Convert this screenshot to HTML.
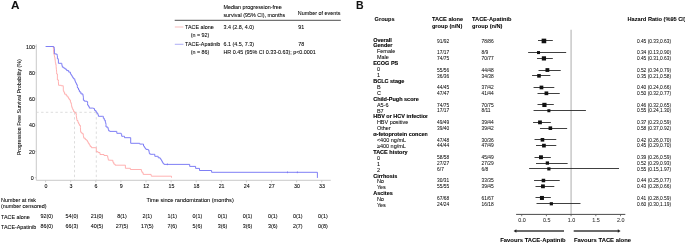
<!DOCTYPE html>
<html><head><meta charset="utf-8"><style>
html,body{margin:0;padding:0;background:#fff;width:685px;height:244px;overflow:hidden;}
svg{display:block;will-change:transform;font-family:"Liberation Sans",sans-serif;}
</style></head><body>
<svg width="685" height="244" viewBox="0 0 685 244">
<rect width="685" height="244" fill="#fff"/>
<text x="11.00" y="9.38" font-size="10.5" text-anchor="start" font-weight="bold" fill="#111" stroke="#111" stroke-width="0.05" textLength="8.5" lengthAdjust="spacingAndGlyphs">A</text>
<text x="223.40" y="9.34" font-size="5.4" text-anchor="start" font-weight="normal" fill="#000" stroke="#000" stroke-width="0.07" >Median progression-free</text>
<text x="223.40" y="17.14" font-size="5.4" text-anchor="start" font-weight="normal" fill="#000" stroke="#000" stroke-width="0.07" >survival (95% CI), months</text>
<text x="297.80" y="14.74" font-size="5.4" text-anchor="start" font-weight="normal" fill="#000" stroke="#000" stroke-width="0.07" >Number of events</text>
<line x1="174.70" y1="20.30" x2="340.80" y2="20.30" stroke="#222" stroke-width="0.8" />
<line x1="174.80" y1="27.00" x2="183.40" y2="27.00" stroke="#f8c4c4" stroke-width="1.1" />
<text x="185.10" y="28.94" font-size="5.4" text-anchor="start" font-weight="normal" fill="#000" stroke="#000" stroke-width="0.07" >TACE alone</text>
<text x="190.70" y="36.84" font-size="5.4" text-anchor="start" font-weight="normal" fill="#000" stroke="#000" stroke-width="0.07" >(n = 92)</text>
<text x="223.40" y="28.94" font-size="5.4" text-anchor="start" font-weight="normal" fill="#000" stroke="#000" stroke-width="0.07" >3.4 (2.8, 4.0)</text>
<text x="298.30" y="28.94" font-size="5.4" text-anchor="start" font-weight="normal" fill="#000" stroke="#000" stroke-width="0.07" >91</text>
<line x1="174.80" y1="44.30" x2="183.40" y2="44.30" stroke="#b4b4f6" stroke-width="1.1" />
<text x="185.10" y="46.24" font-size="5.4" text-anchor="start" font-weight="normal" fill="#000" stroke="#000" stroke-width="0.07" >TACE-Apatinib</text>
<text x="190.70" y="54.34" font-size="5.4" text-anchor="start" font-weight="normal" fill="#000" stroke="#000" stroke-width="0.07" >(n = 86)</text>
<text x="223.40" y="46.24" font-size="5.4" text-anchor="start" font-weight="normal" fill="#000" stroke="#000" stroke-width="0.07" >6.1 (4.5, 7.3)</text>
<text x="298.30" y="46.24" font-size="5.4" text-anchor="start" font-weight="normal" fill="#000" stroke="#000" stroke-width="0.07" >78</text>
<text x="223.40" y="54.34" font-size="5.4" text-anchor="start" font-weight="normal" fill="#000" stroke="#000" stroke-width="0.07" >HR 0.45 (95% CI 0.33-0.63); p&lt;0.0001</text>
<line x1="36.30" y1="44.30" x2="36.30" y2="180.30" stroke="#c4c4c4" stroke-width="0.9" />
<line x1="36.30" y1="180.30" x2="330.80" y2="180.30" stroke="#c4c4c4" stroke-width="0.9" />
<line x1="34.80" y1="177.70" x2="36.30" y2="177.70" stroke="#c4c4c4" stroke-width="0.8" />
<text x="33.70" y="179.91" font-size="5.3" text-anchor="end" font-weight="normal" fill="#000" stroke="#000" stroke-width="0.07" >0</text>
<line x1="34.80" y1="151.44" x2="36.30" y2="151.44" stroke="#c4c4c4" stroke-width="0.8" />
<text x="34.90" y="153.65" font-size="5.3" text-anchor="end" font-weight="normal" fill="#000" stroke="#000" stroke-width="0.07" >20</text>
<line x1="34.80" y1="125.18" x2="36.30" y2="125.18" stroke="#c4c4c4" stroke-width="0.8" />
<text x="34.90" y="127.39" font-size="5.3" text-anchor="end" font-weight="normal" fill="#000" stroke="#000" stroke-width="0.07" >40</text>
<line x1="34.80" y1="98.92" x2="36.30" y2="98.92" stroke="#c4c4c4" stroke-width="0.8" />
<text x="34.90" y="101.13" font-size="5.3" text-anchor="end" font-weight="normal" fill="#000" stroke="#000" stroke-width="0.07" >60</text>
<line x1="34.80" y1="72.66" x2="36.30" y2="72.66" stroke="#c4c4c4" stroke-width="0.8" />
<text x="34.90" y="74.87" font-size="5.3" text-anchor="end" font-weight="normal" fill="#000" stroke="#000" stroke-width="0.07" >80</text>
<line x1="34.80" y1="46.40" x2="36.30" y2="46.40" stroke="#c4c4c4" stroke-width="0.8" />
<text x="34.90" y="48.61" font-size="5.3" text-anchor="end" font-weight="normal" fill="#000" stroke="#000" stroke-width="0.07" >100</text>
<line x1="45.60" y1="180.30" x2="45.60" y2="182.30" stroke="#c4c4c4" stroke-width="0.8" />
<text x="45.90" y="187.71" font-size="5.3" text-anchor="middle" font-weight="normal" fill="#000" stroke="#000" stroke-width="0.07" >0</text>
<line x1="70.70" y1="180.30" x2="70.70" y2="182.30" stroke="#c4c4c4" stroke-width="0.8" />
<text x="71.00" y="187.71" font-size="5.3" text-anchor="middle" font-weight="normal" fill="#000" stroke="#000" stroke-width="0.07" >3</text>
<line x1="95.80" y1="180.30" x2="95.80" y2="182.30" stroke="#c4c4c4" stroke-width="0.8" />
<text x="96.10" y="187.71" font-size="5.3" text-anchor="middle" font-weight="normal" fill="#000" stroke="#000" stroke-width="0.07" >6</text>
<line x1="120.90" y1="180.30" x2="120.90" y2="182.30" stroke="#c4c4c4" stroke-width="0.8" />
<text x="121.20" y="187.71" font-size="5.3" text-anchor="middle" font-weight="normal" fill="#000" stroke="#000" stroke-width="0.07" >9</text>
<line x1="146.00" y1="180.30" x2="146.00" y2="182.30" stroke="#c4c4c4" stroke-width="0.8" />
<text x="146.30" y="187.71" font-size="5.3" text-anchor="middle" font-weight="normal" fill="#000" stroke="#000" stroke-width="0.07" >12</text>
<line x1="171.11" y1="180.30" x2="171.11" y2="182.30" stroke="#c4c4c4" stroke-width="0.8" />
<text x="171.41" y="187.71" font-size="5.3" text-anchor="middle" font-weight="normal" fill="#000" stroke="#000" stroke-width="0.07" >15</text>
<line x1="196.21" y1="180.30" x2="196.21" y2="182.30" stroke="#c4c4c4" stroke-width="0.8" />
<text x="196.51" y="187.71" font-size="5.3" text-anchor="middle" font-weight="normal" fill="#000" stroke="#000" stroke-width="0.07" >18</text>
<line x1="221.31" y1="180.30" x2="221.31" y2="182.30" stroke="#c4c4c4" stroke-width="0.8" />
<text x="221.61" y="187.71" font-size="5.3" text-anchor="middle" font-weight="normal" fill="#000" stroke="#000" stroke-width="0.07" >21</text>
<line x1="246.41" y1="180.30" x2="246.41" y2="182.30" stroke="#c4c4c4" stroke-width="0.8" />
<text x="246.71" y="187.71" font-size="5.3" text-anchor="middle" font-weight="normal" fill="#000" stroke="#000" stroke-width="0.07" >24</text>
<line x1="271.51" y1="180.30" x2="271.51" y2="182.30" stroke="#c4c4c4" stroke-width="0.8" />
<text x="271.81" y="187.71" font-size="5.3" text-anchor="middle" font-weight="normal" fill="#000" stroke="#000" stroke-width="0.07" >27</text>
<line x1="296.61" y1="180.30" x2="296.61" y2="182.30" stroke="#c4c4c4" stroke-width="0.8" />
<text x="296.91" y="187.71" font-size="5.3" text-anchor="middle" font-weight="normal" fill="#000" stroke="#000" stroke-width="0.07" >30</text>
<line x1="321.71" y1="180.30" x2="321.71" y2="182.30" stroke="#c4c4c4" stroke-width="0.8" />
<text x="322.01" y="187.71" font-size="5.3" text-anchor="middle" font-weight="normal" fill="#000" stroke="#000" stroke-width="0.07" >33</text>
<text transform="translate(20.5,107.3) rotate(-90)" font-size="5.25" text-anchor="middle" fill="#000" stroke="#000" stroke-width="0.05">Progression Free Survival Probability (%)</text>
<text x="190.20" y="202.12" font-size="5.6" text-anchor="middle" font-weight="normal" fill="#000" stroke="#000" stroke-width="0.07" >Time since randomization (months)</text>
<line x1="36.30" y1="112.30" x2="96.30" y2="112.30" stroke="#d4d4d4" stroke-width="0.8" stroke-dasharray="2.4 2.4"/>
<line x1="74.50" y1="112.30" x2="74.50" y2="180.30" stroke="#d4d4d4" stroke-width="0.8" stroke-dasharray="2.4 2.4"/>
<line x1="96.30" y1="112.30" x2="96.30" y2="180.30" stroke="#d4d4d4" stroke-width="0.8" stroke-dasharray="2.4 2.4"/>
<polyline points="53.20,46.50 53.32,46.50 53.32,47.98 53.44,47.98 53.44,49.46 53.56,49.46 53.56,50.94 53.68,50.94 53.68,52.42 53.80,52.42 53.80,53.90 54.17,53.90 54.17,55.53 54.53,55.53 54.53,57.17 54.90,57.17 54.90,58.80 55.07,58.80 55.07,60.13 55.23,60.13 55.23,61.47 55.40,61.47 55.40,62.80 55.75,62.80 55.75,64.50 56.10,64.50 56.10,66.20 56.40,69.70 56.50,69.70 56.50,71.13 56.60,71.13 56.60,72.57 56.70,72.57 56.70,74.00 57.40,74.00 57.40,76.00 57.40,79.90 58.40,79.90 58.40,81.40 58.60,85.30 61.30,85.30 61.30,85.80 63.30,85.80 63.30,86.30 63.30,90.70 63.80,90.70 63.80,92.20 64.60,92.20 64.60,94.20 66.30,94.20 66.30,95.20 66.40,96.00 67.90,96.00 67.90,97.50 68.65,97.50 68.65,98.70 69.40,98.70 69.40,99.90 70.40,99.90 70.40,101.90 70.85,101.90 70.85,103.15 71.30,103.15 71.30,104.40 71.55,104.40 71.55,105.85 71.80,105.85 71.80,107.30 72.30,107.30 72.30,108.55 72.80,108.55 72.80,109.80 73.60,109.80 73.60,111.70 74.80,111.70 74.80,112.70 75.80,112.70 75.80,113.70 76.30,113.70 76.30,115.70 76.60,118.00 76.75,118.00 76.75,119.25 76.90,119.25 76.90,120.50 77.90,120.50 77.90,122.40 78.65,122.40 78.65,123.90 79.40,123.90 79.40,125.40 80.40,125.40 80.40,127.30 80.70,132.30 81.90,132.30 81.90,133.70 83.30,133.70 83.30,135.70 83.55,135.70 83.55,136.95 83.80,136.95 83.80,138.20 85.30,138.20 85.30,139.60 86.50,139.60 86.50,140.30 87.40,140.30 87.40,141.85 88.30,141.85 88.30,143.40 89.25,143.40 89.25,144.95 90.20,144.95 90.20,146.50 91.40,146.50 91.40,147.70 95.70,147.70 96.30,147.70 96.30,148.90 96.30,151.70 98.10,151.70 98.10,152.60 100.00,152.60 100.00,154.50 104.00,154.50 104.00,155.50 107.10,155.50 107.10,155.90 107.70,155.90 107.70,157.40 108.00,157.40 108.00,158.75 108.30,158.75 108.30,160.10 112.00,160.30 112.90,160.30 112.90,162.30 113.80,162.30 113.80,164.10 115.10,164.10 115.10,165.20 125.40,165.20 125.40,168.30 130.00,168.30 130.40,168.30 130.40,169.50 141.00,169.50 141.40,169.50 141.40,171.20 142.10,171.20 142.10,172.70 143.20,172.70 143.20,174.40 151.10,174.40 151.30,176.20 171.50,176.20 171.50,177.70" fill="none" stroke="#ffa4a4" stroke-width="0.85" stroke-linejoin="miter"/>
<polyline points="45.60,46.50 53.20,46.50 53.80,46.50 53.80,47.60 54.40,47.60 54.40,48.60 54.40,53.80 55.50,53.80 55.50,54.10 57.10,54.10 57.10,55.10 57.40,55.90 57.40,58.80 58.40,58.80 58.40,59.80 58.40,63.30 61.30,63.30 61.80,63.30 61.80,64.70 62.05,64.70 62.05,65.95 62.30,65.95 62.30,67.20 63.80,67.20 63.80,68.20 65.20,68.20 65.20,69.20 66.70,69.20 66.70,70.60 68.70,70.60 68.70,72.10 70.40,72.10 70.40,73.90 71.15,73.90 71.15,75.10 71.90,75.10 71.90,76.30 72.65,76.30 72.65,77.55 73.40,77.55 73.40,78.80 74.80,78.80 74.80,80.70 75.30,80.70 75.30,81.95 75.80,81.95 75.80,83.20 76.55,83.20 76.55,84.70 77.30,84.70 77.30,86.20 77.50,88.00 78.50,88.00 78.50,89.90 79.40,89.90 79.40,91.90 80.90,91.90 80.90,93.90 82.90,93.90 82.90,95.30 83.15,95.30 83.15,96.55 83.40,96.55 83.40,97.80 83.40,100.30 84.40,100.30 84.40,101.20 86.80,101.20 86.80,101.70 87.60,101.70 87.60,103.20 87.60,105.20 88.60,105.20 88.60,106.60 89.30,106.60 89.30,108.10 92.20,108.10 93.50,108.10 93.50,108.60 94.50,108.60 94.50,110.40 95.90,110.40 95.90,111.90 96.90,111.90 96.90,113.30 97.90,113.30 97.90,114.80 98.40,114.80 98.40,116.30 102.30,116.30 103.30,116.30 103.30,118.30 104.30,118.30 104.30,120.20 105.30,120.20 105.30,122.20 105.65,122.20 105.65,123.35 106.00,123.35 106.00,124.50 106.00,127.00 107.90,127.00 107.90,128.40 108.30,128.40 108.30,129.65 108.70,129.65 108.70,130.90 109.90,130.90 109.90,131.40 116.30,131.40 116.80,131.40 116.80,133.30 120.20,133.30 121.20,133.30 121.20,134.30 121.70,134.30 121.70,136.30 123.70,136.30 124.50,136.30 124.50,137.70 130.70,137.70 130.70,143.30 139.20,143.30 139.70,143.30 139.70,144.10 142.20,144.10 143.50,144.10 143.50,146.00 144.25,146.00 144.25,147.20 145.00,147.20 145.00,148.40 145.90,148.40 145.90,149.40 147.90,149.40 147.90,149.90 148.90,149.90 148.90,151.40 149.15,151.40 149.15,152.60 149.40,152.60 149.40,153.80 150.40,153.80 150.40,154.30 153.80,154.30 154.80,154.30 154.80,156.30 157.20,156.30 158.20,156.30 158.20,157.80 160.20,157.80 160.20,158.70 160.95,158.70 160.95,159.95 161.70,159.95 161.70,161.20 162.40,161.20 162.40,162.45 163.10,162.45 163.10,163.70 164.10,163.70 164.10,164.40 189.70,164.40 189.70,166.40 195.60,166.40 195.60,168.40 199.50,168.40 199.50,170.50 211.60,170.50 211.60,172.30 317.40,172.30 317.40,177.90" fill="none" stroke="#7070f4" stroke-width="0.9" stroke-linejoin="miter"/>
<line x1="167.40" y1="163.40" x2="167.40" y2="165.20" stroke="#7070f4" stroke-width="0.7" />
<line x1="287.50" y1="171.40" x2="287.50" y2="173.20" stroke="#7070f4" stroke-width="0.7" />
<line x1="297.40" y1="171.40" x2="297.40" y2="173.20" stroke="#7070f4" stroke-width="0.7" />
<text x="1.00" y="202.34" font-size="5.4" text-anchor="start" font-weight="normal" fill="#000" stroke="#000" stroke-width="0.07" >Number at risk</text>
<text x="1.00" y="208.04" font-size="5.4" text-anchor="start" font-weight="normal" fill="#000" stroke="#000" stroke-width="0.07" >(number censored)</text>
<text x="1.00" y="219.14" font-size="5.4" text-anchor="start" font-weight="normal" fill="#000" stroke="#000" stroke-width="0.07" >TACE alone</text>
<text x="1.00" y="228.54" font-size="5.4" text-anchor="start" font-weight="normal" fill="#000" stroke="#000" stroke-width="0.07" >TACE-Apatinib</text>
<text x="46.80" y="218.24" font-size="5.4" text-anchor="middle" font-weight="normal" fill="#000" stroke="#000" stroke-width="0.07" >92(0)</text>
<text x="46.80" y="228.44" font-size="5.4" text-anchor="middle" font-weight="normal" fill="#000" stroke="#000" stroke-width="0.07" >86(0)</text>
<text x="71.90" y="218.24" font-size="5.4" text-anchor="middle" font-weight="normal" fill="#000" stroke="#000" stroke-width="0.07" >54(0)</text>
<text x="71.90" y="228.44" font-size="5.4" text-anchor="middle" font-weight="normal" fill="#000" stroke="#000" stroke-width="0.07" >66(3)</text>
<text x="97.00" y="218.24" font-size="5.4" text-anchor="middle" font-weight="normal" fill="#000" stroke="#000" stroke-width="0.07" >21(0)</text>
<text x="97.00" y="228.44" font-size="5.4" text-anchor="middle" font-weight="normal" fill="#000" stroke="#000" stroke-width="0.07" >40(5)</text>
<text x="122.10" y="218.24" font-size="5.4" text-anchor="middle" font-weight="normal" fill="#000" stroke="#000" stroke-width="0.07" >8(1)</text>
<text x="122.10" y="228.44" font-size="5.4" text-anchor="middle" font-weight="normal" fill="#000" stroke="#000" stroke-width="0.07" >27(5)</text>
<text x="147.20" y="218.24" font-size="5.4" text-anchor="middle" font-weight="normal" fill="#000" stroke="#000" stroke-width="0.07" >2(1)</text>
<text x="147.20" y="228.44" font-size="5.4" text-anchor="middle" font-weight="normal" fill="#000" stroke="#000" stroke-width="0.07" >17(5)</text>
<text x="172.31" y="218.24" font-size="5.4" text-anchor="middle" font-weight="normal" fill="#000" stroke="#000" stroke-width="0.07" >1(1)</text>
<text x="172.31" y="228.44" font-size="5.4" text-anchor="middle" font-weight="normal" fill="#000" stroke="#000" stroke-width="0.07" >7(6)</text>
<text x="197.41" y="218.24" font-size="5.4" text-anchor="middle" font-weight="normal" fill="#000" stroke="#000" stroke-width="0.07" >0(1)</text>
<text x="197.41" y="228.44" font-size="5.4" text-anchor="middle" font-weight="normal" fill="#000" stroke="#000" stroke-width="0.07" >5(6)</text>
<text x="222.51" y="218.24" font-size="5.4" text-anchor="middle" font-weight="normal" fill="#000" stroke="#000" stroke-width="0.07" >0(1)</text>
<text x="222.51" y="228.44" font-size="5.4" text-anchor="middle" font-weight="normal" fill="#000" stroke="#000" stroke-width="0.07" >3(6)</text>
<text x="247.61" y="218.24" font-size="5.4" text-anchor="middle" font-weight="normal" fill="#000" stroke="#000" stroke-width="0.07" >0(1)</text>
<text x="247.61" y="228.44" font-size="5.4" text-anchor="middle" font-weight="normal" fill="#000" stroke="#000" stroke-width="0.07" >3(6)</text>
<text x="272.71" y="218.24" font-size="5.4" text-anchor="middle" font-weight="normal" fill="#000" stroke="#000" stroke-width="0.07" >0(1)</text>
<text x="272.71" y="228.44" font-size="5.4" text-anchor="middle" font-weight="normal" fill="#000" stroke="#000" stroke-width="0.07" >3(6)</text>
<text x="297.81" y="218.24" font-size="5.4" text-anchor="middle" font-weight="normal" fill="#000" stroke="#000" stroke-width="0.07" >0(1)</text>
<text x="297.81" y="228.44" font-size="5.4" text-anchor="middle" font-weight="normal" fill="#000" stroke="#000" stroke-width="0.07" >2(7)</text>
<text x="322.91" y="218.24" font-size="5.4" text-anchor="middle" font-weight="normal" fill="#000" stroke="#000" stroke-width="0.07" >0(1)</text>
<text x="322.91" y="228.44" font-size="5.4" text-anchor="middle" font-weight="normal" fill="#000" stroke="#000" stroke-width="0.07" >0(8)</text>
<text x="355.90" y="9.38" font-size="10.5" text-anchor="start" font-weight="bold" fill="#111" stroke="#111" stroke-width="0.05" >B</text>
<text x="374.60" y="21.23" font-size="5.65" text-anchor="start" font-weight="bold" fill="#000" stroke="#000" stroke-width="0.05" >Groups</text>
<text x="431.90" y="21.23" font-size="5.65" text-anchor="start" font-weight="bold" fill="#000" stroke="#000" stroke-width="0.05" >TACE alone</text>
<text x="431.90" y="27.83" font-size="5.65" text-anchor="start" font-weight="bold" fill="#000" stroke="#000" stroke-width="0.05" >group (n/N)</text>
<text x="472.10" y="21.23" font-size="5.65" text-anchor="start" font-weight="bold" fill="#000" stroke="#000" stroke-width="0.05" >TACE-Apatinib</text>
<text x="472.10" y="27.83" font-size="5.65" text-anchor="start" font-weight="bold" fill="#000" stroke="#000" stroke-width="0.05" >group (n/N)</text>
<text x="627.50" y="21.33" font-size="5.65" text-anchor="start" font-weight="bold" fill="#000" stroke="#000" stroke-width="0.05" >Hazard Ratio (%95 CI)</text>
<line x1="571.10" y1="29.80" x2="571.10" y2="214.40" stroke="#c8c8c8" stroke-width="1.5" />
<clipPath id="gc"><rect x="360" y="0" width="67.6" height="244"/></clipPath>
<text x="373.20" y="41.58" font-size="5.5" text-anchor="start" font-weight="bold" fill="#000" stroke="#000" stroke-width="0.12" clip-path="url(#gc)">Overall</text>
<text x="437.10" y="42.70" font-size="4.85" text-anchor="start" font-weight="normal" fill="#000" stroke="#000" stroke-width="0.03" >91/92</text>
<text x="481.50" y="42.70" font-size="4.85" text-anchor="start" font-weight="normal" fill="#000" stroke="#000" stroke-width="0.03" >78/86</text>
<text x="636.90" y="42.70" font-size="4.85" text-anchor="start" font-weight="normal" fill="#000" stroke="#000" stroke-width="0.03" >0.45 (0.33,0.63)</text>
<line x1="538.00" y1="40.50" x2="552.82" y2="40.50" stroke="#2a2a2a" stroke-width="0.9" />
<rect x="541.63" y="38.65" width="4.60" height="4.60" fill="#111"/>
<text x="373.20" y="47.49" font-size="5.5" text-anchor="start" font-weight="bold" fill="#000" stroke="#000" stroke-width="0.12" clip-path="url(#gc)">Gender</text>
<text x="376.90" y="53.40" font-size="5.5" text-anchor="start" font-weight="normal" fill="#000" stroke="#000" stroke-width="0.05" >Female</text>
<text x="437.10" y="54.33" font-size="4.85" text-anchor="start" font-weight="normal" fill="#000" stroke="#000" stroke-width="0.03" >17/17</text>
<text x="481.50" y="54.33" font-size="4.85" text-anchor="start" font-weight="normal" fill="#000" stroke="#000" stroke-width="0.03" >8/9</text>
<text x="636.90" y="54.33" font-size="4.85" text-anchor="start" font-weight="normal" fill="#000" stroke="#000" stroke-width="0.03" >0.34 (0.13,0.90)</text>
<line x1="528.12" y1="52.50" x2="566.16" y2="52.50" stroke="#2a2a2a" stroke-width="0.9" />
<rect x="537.00" y="51.08" width="3.00" height="3.00" fill="#111"/>
<text x="376.90" y="59.31" font-size="5.5" text-anchor="start" font-weight="normal" fill="#000" stroke="#000" stroke-width="0.05" >Male</text>
<text x="437.10" y="60.14" font-size="4.85" text-anchor="start" font-weight="normal" fill="#000" stroke="#000" stroke-width="0.03" >74/75</text>
<text x="481.50" y="60.14" font-size="4.85" text-anchor="start" font-weight="normal" fill="#000" stroke="#000" stroke-width="0.03" >70/77</text>
<text x="636.90" y="60.14" font-size="4.85" text-anchor="start" font-weight="normal" fill="#000" stroke="#000" stroke-width="0.03" >0.45 (0.31,0.63)</text>
<line x1="537.01" y1="58.50" x2="552.82" y2="58.50" stroke="#2a2a2a" stroke-width="0.9" />
<rect x="541.83" y="56.30" width="4.20" height="4.20" fill="#111"/>
<text x="373.20" y="65.22" font-size="5.5" text-anchor="start" font-weight="bold" fill="#000" stroke="#000" stroke-width="0.12" clip-path="url(#gc)">ECOG PS</text>
<text x="376.90" y="71.13" font-size="5.5" text-anchor="start" font-weight="normal" fill="#000" stroke="#000" stroke-width="0.05" >0</text>
<text x="437.10" y="71.77" font-size="4.85" text-anchor="start" font-weight="normal" fill="#000" stroke="#000" stroke-width="0.03" >55/56</text>
<text x="481.50" y="71.77" font-size="4.85" text-anchor="start" font-weight="normal" fill="#000" stroke="#000" stroke-width="0.03" >44/48</text>
<text x="636.90" y="71.77" font-size="4.85" text-anchor="start" font-weight="normal" fill="#000" stroke="#000" stroke-width="0.03" >0.52 (0.34,0.79)</text>
<line x1="538.50" y1="70.50" x2="560.73" y2="70.50" stroke="#2a2a2a" stroke-width="0.9" />
<rect x="545.49" y="68.12" width="3.80" height="3.80" fill="#111"/>
<text x="376.90" y="77.04" font-size="5.5" text-anchor="start" font-weight="normal" fill="#000" stroke="#000" stroke-width="0.05" >1</text>
<text x="437.10" y="77.59" font-size="4.85" text-anchor="start" font-weight="normal" fill="#000" stroke="#000" stroke-width="0.03" >36/36</text>
<text x="481.50" y="77.59" font-size="4.85" text-anchor="start" font-weight="normal" fill="#000" stroke="#000" stroke-width="0.03" >34/38</text>
<text x="636.90" y="77.59" font-size="4.85" text-anchor="start" font-weight="normal" fill="#000" stroke="#000" stroke-width="0.03" >0.35 (0.21,0.58)</text>
<line x1="532.07" y1="75.50" x2="550.35" y2="75.50" stroke="#2a2a2a" stroke-width="0.9" />
<rect x="537.19" y="74.04" width="3.60" height="3.60" fill="#111"/>
<text x="373.20" y="82.95" font-size="5.5" text-anchor="start" font-weight="bold" fill="#000" stroke="#000" stroke-width="0.12" clip-path="url(#gc)">BCLC stage</text>
<text x="376.90" y="88.86" font-size="5.5" text-anchor="start" font-weight="normal" fill="#000" stroke="#000" stroke-width="0.05" >B</text>
<text x="437.10" y="89.22" font-size="4.85" text-anchor="start" font-weight="normal" fill="#000" stroke="#000" stroke-width="0.03" >44/45</text>
<text x="481.50" y="89.22" font-size="4.85" text-anchor="start" font-weight="normal" fill="#000" stroke="#000" stroke-width="0.03" >37/42</text>
<text x="636.90" y="89.22" font-size="4.85" text-anchor="start" font-weight="normal" fill="#000" stroke="#000" stroke-width="0.03" >0.40 (0.24,0.66)</text>
<line x1="533.56" y1="87.50" x2="554.30" y2="87.50" stroke="#2a2a2a" stroke-width="0.9" />
<rect x="539.61" y="85.62" width="3.70" height="3.70" fill="#111"/>
<text x="376.90" y="94.77" font-size="5.5" text-anchor="start" font-weight="normal" fill="#000" stroke="#000" stroke-width="0.05" >C</text>
<text x="437.10" y="95.03" font-size="4.85" text-anchor="start" font-weight="normal" fill="#000" stroke="#000" stroke-width="0.03" >47/47</text>
<text x="481.50" y="95.03" font-size="4.85" text-anchor="start" font-weight="normal" fill="#000" stroke="#000" stroke-width="0.03" >41/44</text>
<text x="636.90" y="95.03" font-size="4.85" text-anchor="start" font-weight="normal" fill="#000" stroke="#000" stroke-width="0.03" >0.50 (0.32,0.77)</text>
<line x1="537.51" y1="93.50" x2="559.74" y2="93.50" stroke="#2a2a2a" stroke-width="0.9" />
<rect x="544.55" y="91.44" width="3.70" height="3.70" fill="#111"/>
<text x="373.20" y="100.68" font-size="5.5" text-anchor="start" font-weight="bold" fill="#000" stroke="#000" stroke-width="0.12" clip-path="url(#gc)">Child-Pugh score</text>
<text x="376.90" y="106.59" font-size="5.5" text-anchor="start" font-weight="normal" fill="#000" stroke="#000" stroke-width="0.05" >A5-6</text>
<text x="437.10" y="106.66" font-size="4.85" text-anchor="start" font-weight="normal" fill="#000" stroke="#000" stroke-width="0.03" >74/75</text>
<text x="481.50" y="106.66" font-size="4.85" text-anchor="start" font-weight="normal" fill="#000" stroke="#000" stroke-width="0.03" >70/75</text>
<text x="636.90" y="106.66" font-size="4.85" text-anchor="start" font-weight="normal" fill="#000" stroke="#000" stroke-width="0.03" >0.46 (0.32,0.65)</text>
<line x1="537.51" y1="104.50" x2="553.81" y2="104.50" stroke="#2a2a2a" stroke-width="0.9" />
<rect x="542.32" y="102.82" width="4.20" height="4.20" fill="#111"/>
<text x="376.90" y="112.50" font-size="5.5" text-anchor="start" font-weight="normal" fill="#000" stroke="#000" stroke-width="0.05" >B7</text>
<text x="437.10" y="112.48" font-size="4.85" text-anchor="start" font-weight="normal" fill="#000" stroke="#000" stroke-width="0.03" >17/17</text>
<text x="481.50" y="112.48" font-size="4.85" text-anchor="start" font-weight="normal" fill="#000" stroke="#000" stroke-width="0.03" >8/11</text>
<text x="636.90" y="112.48" font-size="4.85" text-anchor="start" font-weight="normal" fill="#000" stroke="#000" stroke-width="0.03" >0.55 (0.24,1.30)</text>
<line x1="533.56" y1="110.50" x2="585.92" y2="110.50" stroke="#2a2a2a" stroke-width="0.9" />
<rect x="547.37" y="109.23" width="3.00" height="3.00" fill="#111"/>
<text x="373.20" y="118.41" font-size="5.5" text-anchor="start" font-weight="bold" fill="#000" stroke="#000" stroke-width="0.12" clip-path="url(#gc)">HBV or HCV infection</text>
<text x="376.90" y="124.32" font-size="5.5" text-anchor="start" font-weight="normal" fill="#000" stroke="#000" stroke-width="0.05" >HBV positive</text>
<text x="437.10" y="124.11" font-size="4.85" text-anchor="start" font-weight="normal" fill="#000" stroke="#000" stroke-width="0.03" >49/49</text>
<text x="481.50" y="124.11" font-size="4.85" text-anchor="start" font-weight="normal" fill="#000" stroke="#000" stroke-width="0.03" >39/44</text>
<text x="636.90" y="124.11" font-size="4.85" text-anchor="start" font-weight="normal" fill="#000" stroke="#000" stroke-width="0.03" >0.37 (0.23,0.59)</text>
<line x1="533.06" y1="122.50" x2="550.85" y2="122.50" stroke="#2a2a2a" stroke-width="0.9" />
<rect x="538.08" y="120.46" width="3.80" height="3.80" fill="#111"/>
<text x="376.90" y="130.23" font-size="5.5" text-anchor="start" font-weight="normal" fill="#000" stroke="#000" stroke-width="0.05" >Other</text>
<text x="437.10" y="129.92" font-size="4.85" text-anchor="start" font-weight="normal" fill="#000" stroke="#000" stroke-width="0.03" >39/40</text>
<text x="481.50" y="129.92" font-size="4.85" text-anchor="start" font-weight="normal" fill="#000" stroke="#000" stroke-width="0.03" >39/42</text>
<text x="636.90" y="129.92" font-size="4.85" text-anchor="start" font-weight="normal" fill="#000" stroke="#000" stroke-width="0.03" >0.58 (0.37,0.92)</text>
<line x1="539.98" y1="128.50" x2="567.15" y2="128.50" stroke="#2a2a2a" stroke-width="0.9" />
<rect x="548.55" y="126.38" width="3.60" height="3.60" fill="#111"/>
<text x="373.20" y="136.14" font-size="5.5" text-anchor="start" font-weight="bold" fill="#000" stroke="#000" stroke-width="0.12" clip-path="url(#gc)">α-fetoprotein concen</text>
<text x="376.90" y="142.05" font-size="5.5" text-anchor="start" font-weight="normal" fill="#000" stroke="#000" stroke-width="0.05" >&lt;400 ng/mL</text>
<text x="437.10" y="141.55" font-size="4.85" text-anchor="start" font-weight="normal" fill="#000" stroke="#000" stroke-width="0.03" >47/48</text>
<text x="481.50" y="141.55" font-size="4.85" text-anchor="start" font-weight="normal" fill="#000" stroke="#000" stroke-width="0.03" >30/36</text>
<text x="636.90" y="141.55" font-size="4.85" text-anchor="start" font-weight="normal" fill="#000" stroke="#000" stroke-width="0.03" >0.42 (0.26,0.70)</text>
<line x1="534.54" y1="139.50" x2="556.28" y2="139.50" stroke="#2a2a2a" stroke-width="0.9" />
<rect x="540.65" y="138.00" width="3.60" height="3.60" fill="#111"/>
<text x="376.90" y="147.96" font-size="5.5" text-anchor="start" font-weight="normal" fill="#000" stroke="#000" stroke-width="0.05" >≥400 ng/mL</text>
<text x="437.10" y="147.37" font-size="4.85" text-anchor="start" font-weight="normal" fill="#000" stroke="#000" stroke-width="0.03" >44/44</text>
<text x="481.50" y="147.37" font-size="4.85" text-anchor="start" font-weight="normal" fill="#000" stroke="#000" stroke-width="0.03" >47/49</text>
<text x="636.90" y="147.37" font-size="4.85" text-anchor="start" font-weight="normal" fill="#000" stroke="#000" stroke-width="0.03" >0.45 (0.29,0.70)</text>
<line x1="536.03" y1="145.50" x2="556.28" y2="145.50" stroke="#2a2a2a" stroke-width="0.9" />
<rect x="542.08" y="143.77" width="3.70" height="3.70" fill="#111"/>
<text x="373.20" y="153.87" font-size="5.5" text-anchor="start" font-weight="bold" fill="#000" stroke="#000" stroke-width="0.12" clip-path="url(#gc)">TACE history</text>
<text x="376.90" y="159.78" font-size="5.5" text-anchor="start" font-weight="normal" fill="#000" stroke="#000" stroke-width="0.05" >0</text>
<text x="437.10" y="159.00" font-size="4.85" text-anchor="start" font-weight="normal" fill="#000" stroke="#000" stroke-width="0.03" >58/58</text>
<text x="481.50" y="159.00" font-size="4.85" text-anchor="start" font-weight="normal" fill="#000" stroke="#000" stroke-width="0.03" >45/49</text>
<text x="636.90" y="159.00" font-size="4.85" text-anchor="start" font-weight="normal" fill="#000" stroke="#000" stroke-width="0.03" >0.39 (0.26,0.59)</text>
<line x1="534.54" y1="157.50" x2="550.85" y2="157.50" stroke="#2a2a2a" stroke-width="0.9" />
<rect x="539.02" y="155.30" width="3.90" height="3.90" fill="#111"/>
<text x="376.90" y="165.69" font-size="5.5" text-anchor="start" font-weight="normal" fill="#000" stroke="#000" stroke-width="0.05" >1</text>
<text x="437.10" y="164.81" font-size="4.85" text-anchor="start" font-weight="normal" fill="#000" stroke="#000" stroke-width="0.03" >27/27</text>
<text x="481.50" y="164.81" font-size="4.85" text-anchor="start" font-weight="normal" fill="#000" stroke="#000" stroke-width="0.03" >27/29</text>
<text x="636.90" y="164.81" font-size="4.85" text-anchor="start" font-weight="normal" fill="#000" stroke="#000" stroke-width="0.03" >0.52 (0.29,0.93)</text>
<line x1="536.03" y1="163.50" x2="567.64" y2="163.50" stroke="#2a2a2a" stroke-width="0.9" />
<rect x="545.74" y="161.41" width="3.30" height="3.30" fill="#111"/>
<text x="376.90" y="171.60" font-size="5.5" text-anchor="start" font-weight="normal" fill="#000" stroke="#000" stroke-width="0.05" >2</text>
<text x="437.10" y="170.63" font-size="4.85" text-anchor="start" font-weight="normal" fill="#000" stroke="#000" stroke-width="0.03" >6/7</text>
<text x="481.50" y="170.63" font-size="4.85" text-anchor="start" font-weight="normal" fill="#000" stroke="#000" stroke-width="0.03" >6/8</text>
<text x="636.90" y="170.63" font-size="4.85" text-anchor="start" font-weight="normal" fill="#000" stroke="#000" stroke-width="0.03" >0.55 (0.15,1.97)</text>
<line x1="529.11" y1="168.50" x2="619.02" y2="168.50" stroke="#2a2a2a" stroke-width="0.9" />
<rect x="547.27" y="167.28" width="3.20" height="3.20" fill="#111"/>
<text x="373.20" y="177.51" font-size="5.5" text-anchor="start" font-weight="bold" fill="#000" stroke="#000" stroke-width="0.12" clip-path="url(#gc)">Cirrhosis</text>
<text x="376.90" y="183.42" font-size="5.5" text-anchor="start" font-weight="normal" fill="#000" stroke="#000" stroke-width="0.05" >No</text>
<text x="437.10" y="182.26" font-size="4.85" text-anchor="start" font-weight="normal" fill="#000" stroke="#000" stroke-width="0.03" >30/31</text>
<text x="481.50" y="182.26" font-size="4.85" text-anchor="start" font-weight="normal" fill="#000" stroke="#000" stroke-width="0.03" >33/35</text>
<text x="636.90" y="182.26" font-size="4.85" text-anchor="start" font-weight="normal" fill="#000" stroke="#000" stroke-width="0.03" >0.44 (0.25,0.77)</text>
<line x1="534.05" y1="180.50" x2="559.74" y2="180.50" stroke="#2a2a2a" stroke-width="0.9" />
<rect x="541.69" y="178.76" width="3.50" height="3.50" fill="#111"/>
<text x="376.90" y="189.33" font-size="5.5" text-anchor="start" font-weight="normal" fill="#000" stroke="#000" stroke-width="0.05" >Yes</text>
<text x="437.10" y="188.07" font-size="4.85" text-anchor="start" font-weight="normal" fill="#000" stroke="#000" stroke-width="0.03" >55/55</text>
<text x="481.50" y="188.07" font-size="4.85" text-anchor="start" font-weight="normal" fill="#000" stroke="#000" stroke-width="0.03" >39/45</text>
<text x="636.90" y="188.07" font-size="4.85" text-anchor="start" font-weight="normal" fill="#000" stroke="#000" stroke-width="0.03" >0.43 (0.28,0.66)</text>
<line x1="535.53" y1="186.50" x2="554.30" y2="186.50" stroke="#2a2a2a" stroke-width="0.9" />
<rect x="541.04" y="184.42" width="3.80" height="3.80" fill="#111"/>
<text x="373.20" y="195.24" font-size="5.5" text-anchor="start" font-weight="bold" fill="#000" stroke="#000" stroke-width="0.12" clip-path="url(#gc)">Ascites</text>
<text x="376.90" y="201.15" font-size="5.5" text-anchor="start" font-weight="normal" fill="#000" stroke="#000" stroke-width="0.05" >No</text>
<text x="437.10" y="199.70" font-size="4.85" text-anchor="start" font-weight="normal" fill="#000" stroke="#000" stroke-width="0.03" >67/68</text>
<text x="481.50" y="199.70" font-size="4.85" text-anchor="start" font-weight="normal" fill="#000" stroke="#000" stroke-width="0.03" >61/67</text>
<text x="636.90" y="199.70" font-size="4.85" text-anchor="start" font-weight="normal" fill="#000" stroke="#000" stroke-width="0.03" >0.41 (0.28,0.59)</text>
<line x1="535.53" y1="197.50" x2="550.85" y2="197.50" stroke="#2a2a2a" stroke-width="0.9" />
<rect x="539.95" y="195.96" width="4.00" height="4.00" fill="#111"/>
<text x="376.90" y="207.06" font-size="5.5" text-anchor="start" font-weight="normal" fill="#000" stroke="#000" stroke-width="0.05" >Yes</text>
<text x="437.10" y="205.52" font-size="4.85" text-anchor="start" font-weight="normal" fill="#000" stroke="#000" stroke-width="0.03" >24/24</text>
<text x="481.50" y="205.52" font-size="4.85" text-anchor="start" font-weight="normal" fill="#000" stroke="#000" stroke-width="0.03" >16/18</text>
<text x="636.90" y="205.52" font-size="4.85" text-anchor="start" font-weight="normal" fill="#000" stroke="#000" stroke-width="0.03" >0.60 (0.30,1.19)</text>
<line x1="536.52" y1="203.50" x2="580.49" y2="203.50" stroke="#2a2a2a" stroke-width="0.9" />
<rect x="549.74" y="202.17" width="3.20" height="3.20" fill="#111"/>
<line x1="516.10" y1="214.40" x2="625.30" y2="214.40" stroke="#4a4a4a" stroke-width="1.0" />
<line x1="521.70" y1="214.40" x2="521.70" y2="216.20" stroke="#555" stroke-width="0.8" />
<text x="522.00" y="222.24" font-size="5.4" text-anchor="middle" font-weight="normal" fill="#333" stroke="#333" stroke-width="0.07" >0.0</text>
<line x1="546.40" y1="214.40" x2="546.40" y2="216.20" stroke="#555" stroke-width="0.8" />
<text x="546.70" y="222.24" font-size="5.4" text-anchor="middle" font-weight="normal" fill="#333" stroke="#333" stroke-width="0.07" >0.5</text>
<line x1="571.10" y1="214.40" x2="571.10" y2="216.20" stroke="#555" stroke-width="0.8" />
<text x="571.40" y="222.24" font-size="5.4" text-anchor="middle" font-weight="normal" fill="#333" stroke="#333" stroke-width="0.07" >1.0</text>
<line x1="595.80" y1="214.40" x2="595.80" y2="216.20" stroke="#555" stroke-width="0.8" />
<text x="596.10" y="222.24" font-size="5.4" text-anchor="middle" font-weight="normal" fill="#333" stroke="#333" stroke-width="0.07" >1.5</text>
<line x1="620.50" y1="214.40" x2="620.50" y2="216.20" stroke="#555" stroke-width="0.8" />
<text x="620.80" y="222.24" font-size="5.4" text-anchor="middle" font-weight="normal" fill="#333" stroke="#333" stroke-width="0.07" >2.0</text>
<line x1="515.50" y1="231.00" x2="564.00" y2="231.00" stroke="#3a3a3a" stroke-width="1.5" />
<polygon points="513.6,231 516.4,229.3 516.4,232.7" fill="#222"/>
<line x1="573.70" y1="231.00" x2="618.50" y2="231.00" stroke="#3a3a3a" stroke-width="1.5" />
<polygon points="620.6,231 617.8,229.3 617.8,232.7" fill="#222"/>
<text x="500.20" y="241.72" font-size="5.88" text-anchor="start" font-weight="bold" fill="#000" stroke="#000" stroke-width="0.05" >Favours TACE-Apatinib</text>
<text x="574.00" y="241.72" font-size="5.88" text-anchor="start" font-weight="bold" fill="#000" stroke="#000" stroke-width="0.05" >Favours TACE alone</text>
</svg></body></html>
